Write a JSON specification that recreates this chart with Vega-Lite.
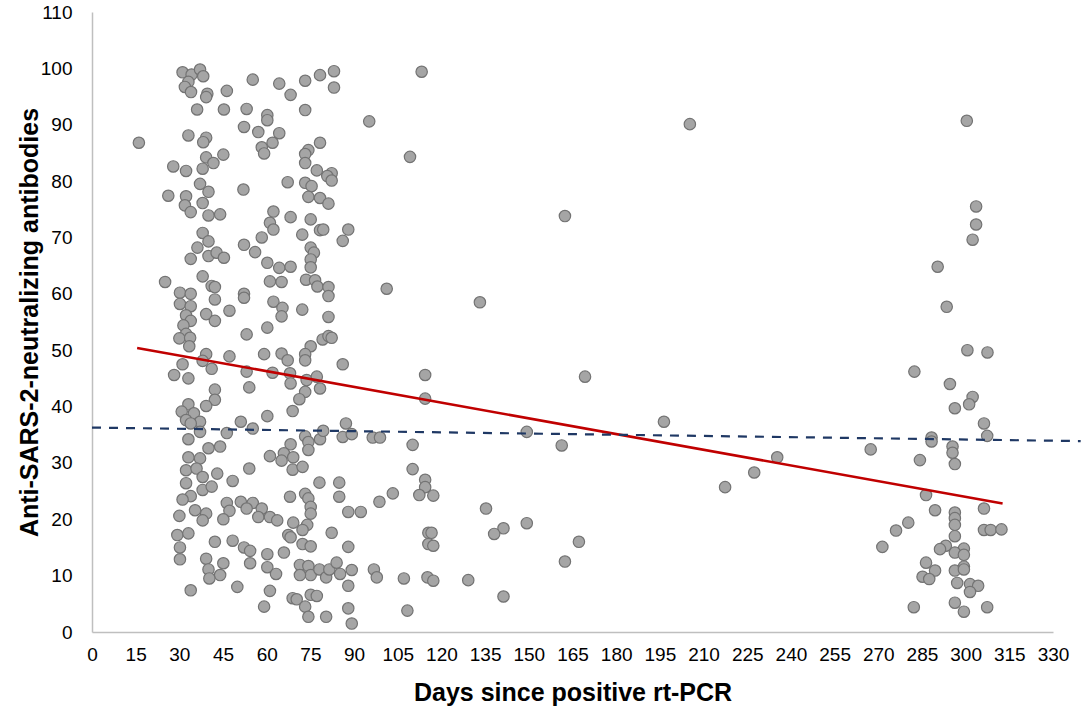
{
  "$schema": "https://vega.github.io/schema/vega-lite/v6.json",
  "width": 961,
  "height": 620,
  "autosize": {"type": "none"},
  "padding": {"left": 92, "top": 12, "right": 31, "bottom": 76},
  "background": "#ffffff",
  "config": {"view": {"stroke": null}},
  "datasets": {
    "points": [
      {"day":31.1,"antibodies":99.3},{"day":34.2,"antibodies":98.9},{"day":37.1,"antibodies":99.8},{"day":38.2,"antibodies":98.6},{"day":33.1,"antibodies":97.6},{"day":31.9,"antibodies":96.7},{"day":34.0,"antibodies":95.8},{"day":39.6,"antibodies":95.5},{"day":39.2,"antibodies":94.9},{"day":46.3,"antibodies":96.0},{"day":55.2,"antibodies":98.0},{"day":64.3,"antibodies":97.3},{"day":68.2,"antibodies":95.3},{"day":73.2,"antibodies":97.8},{"day":78.3,"antibodies":98.8},{"day":83.1,"antibodies":99.5},{"day":83.1,"antibodies":96.6},{"day":36.1,"antibodies":92.7},{"day":45.3,"antibodies":92.7},{"day":53.1,"antibodies":92.8},{"day":60.2,"antibodies":91.7},{"day":60.2,"antibodies":90.8},{"day":73.2,"antibodies":92.6},{"day":95.2,"antibodies":90.6},{"day":16.1,"antibodies":86.8},{"day":33.1,"antibodies":88.1},{"day":39.2,"antibodies":87.7},{"day":38.2,"antibodies":86.9},{"day":52.2,"antibodies":89.6},{"day":57.1,"antibodies":88.7},{"day":64.3,"antibodies":88.5},{"day":62.0,"antibodies":86.8},{"day":58.3,"antibodies":86.0},{"day":59.1,"antibodies":84.9},{"day":78.3,"antibodies":86.8},{"day":74.3,"antibodies":85.5},{"day":73.2,"antibodies":84.8},{"day":73.2,"antibodies":83.2},{"day":39.2,"antibodies":84.2},{"day":41.7,"antibodies":83.2},{"day":45.1,"antibodies":84.7},{"day":38.0,"antibodies":82.2},{"day":27.9,"antibodies":82.6},{"day":32.3,"antibodies":81.8},{"day":37.1,"antibodies":79.5},{"day":40.0,"antibodies":78.1},{"day":26.2,"antibodies":77.4},{"day":32.3,"antibodies":77.3},{"day":31.9,"antibodies":75.7},{"day":33.9,"antibodies":74.5},{"day":38.0,"antibodies":76.1},{"day":40.0,"antibodies":73.9},{"day":44.0,"antibodies":74.1},{"day":52.0,"antibodies":78.5},{"day":67.2,"antibodies":79.8},{"day":73.2,"antibodies":79.7},{"day":75.4,"antibodies":79.1},{"day":74.3,"antibodies":77.2},{"day":78.3,"antibodies":77.0},{"day":81.2,"antibodies":76.0},{"day":77.2,"antibodies":81.9},{"day":82.3,"antibodies":81.4},{"day":80.8,"antibodies":80.9},{"day":82.3,"antibodies":80.1},{"day":62.3,"antibodies":74.6},{"day":68.2,"antibodies":73.6},{"day":75.1,"antibodies":73.2},{"day":78.3,"antibodies":71.3},{"day":79.4,"antibodies":71.4},{"day":88.0,"antibodies":71.4},{"day":86.1,"antibodies":69.4},{"day":61.1,"antibodies":72.6},{"day":62.3,"antibodies":71.4},{"day":58.3,"antibodies":70.0},{"day":72.2,"antibodies":70.5},{"day":38.0,"antibodies":70.8},{"day":40.0,"antibodies":69.3},{"day":36.2,"antibodies":68.2},{"day":33.9,"antibodies":66.2},{"day":40.0,"antibodies":66.7},{"day":42.8,"antibodies":67.3},{"day":45.3,"antibodies":66.4},{"day":52.2,"antibodies":68.7},{"day":56.0,"antibodies":67.4},{"day":60.2,"antibodies":65.5},{"day":64.3,"antibodies":64.6},{"day":68.2,"antibodies":64.8},{"day":75.1,"antibodies":68.2},{"day":76.2,"antibodies":67.3},{"day":75.1,"antibodies":66.1},{"day":75.1,"antibodies":64.7},{"day":73.5,"antibodies":62.5},{"day":76.6,"antibodies":62.4},{"day":77.4,"antibodies":61.3},{"day":81.2,"antibodies":61.2},{"day":81.2,"antibodies":59.6},{"day":25.1,"antibodies":62.1},{"day":38.0,"antibodies":63.1},{"day":41.1,"antibodies":61.4},{"day":42.2,"antibodies":61.2},{"day":30.2,"antibodies":60.2},{"day":33.9,"antibodies":60.0},{"day":30.2,"antibodies":58.2},{"day":33.9,"antibodies":57.8},{"day":32.3,"antibodies":56.2},{"day":33.9,"antibodies":55.2},{"day":31.4,"antibodies":54.4},{"day":32.3,"antibodies":52.9},{"day":30.0,"antibodies":52.1},{"day":33.7,"antibodies":52.2},{"day":42.2,"antibodies":59.0},{"day":39.2,"antibodies":56.4},{"day":42.2,"antibodies":55.2},{"day":47.2,"antibodies":57.0},{"day":52.2,"antibodies":60.0},{"day":52.2,"antibodies":59.3},{"day":61.1,"antibodies":62.2},{"day":65.1,"antibodies":62.1},{"day":62.3,"antibodies":58.6},{"day":65.4,"antibodies":57.5},{"day":65.1,"antibodies":56.0},{"day":72.2,"antibodies":57.2},{"day":81.2,"antibodies":55.9},{"day":60.2,"antibodies":54.0},{"day":53.1,"antibodies":52.8},{"day":79.2,"antibodies":51.9},{"day":81.2,"antibodies":52.5},{"day":82.3,"antibodies":52.2},{"day":33.4,"antibodies":50.7},{"day":75.1,"antibodies":50.7},
      {"day":113.2,"antibodies":99.4},{"day":109.2,"antibodies":84.3},{"day":205.3,"antibodies":90.1},{"day":162.4,"antibodies":73.8},{"day":101.2,"antibodies":60.9},{"day":133.2,"antibodies":58.5},
      {"day":300.4,"antibodies":90.7},
      {"day":303.6,"antibodies":75.5},{"day":303.6,"antibodies":72.3},{"day":302.4,"antibodies":69.6},{"day":290.4,"antibodies":64.8},{"day":293.5,"antibodies":57.7},{"day":300.6,"antibodies":50.0},{"day":307.5,"antibodies":49.6},{"day":282.4,"antibodies":46.2},{"day":294.6,"antibodies":44.0},
      {"day":39.2,"antibodies":49.3},{"day":47.2,"antibodies":48.9},{"day":59.1,"antibodies":49.3},{"day":65.1,"antibodies":49.4},{"day":67.2,"antibodies":48.2},{"day":73.2,"antibodies":49.3},{"day":73.2,"antibodies":48.2},{"day":86.1,"antibodies":47.5},{"day":31.1,"antibodies":47.5},{"day":38.0,"antibodies":48.1},{"day":41.1,"antibodies":46.7},{"day":28.2,"antibodies":45.6},{"day":33.1,"antibodies":45.0},{"day":53.1,"antibodies":46.2},{"day":62.0,"antibodies":46.0},{"day":68.0,"antibodies":45.9},{"day":68.2,"antibodies":44.1},{"day":73.7,"antibodies":44.7},{"day":77.2,"antibodies":45.3},{"day":78.3,"antibodies":43.2},{"day":73.2,"antibodies":42.6},{"day":71.2,"antibodies":41.3},{"day":68.9,"antibodies":39.2},{"day":54.0,"antibodies":43.4},{"day":42.2,"antibodies":43.0},{"day":42.2,"antibodies":41.2},{"day":39.2,"antibodies":40.1},{"day":33.1,"antibodies":40.4},{"day":30.8,"antibodies":39.1},{"day":35.0,"antibodies":38.8},{"day":32.3,"antibodies":37.6},{"day":37.1,"antibodies":37.3},{"day":33.9,"antibodies":37.0},{"day":37.1,"antibodies":35.5},{"day":33.1,"antibodies":34.2},{"day":51.1,"antibodies":37.3},{"day":60.2,"antibodies":38.3},{"day":55.2,"antibodies":36.1},{"day":46.3,"antibodies":35.3},{"day":87.2,"antibodies":37.0},{"day":86.1,"antibodies":34.6},{"day":89.2,"antibodies":35.1},{"day":96.4,"antibodies":34.5},{"day":73.2,"antibodies":34.7},{"day":78.3,"antibodies":34.2},{"day":79.4,"antibodies":35.7},{"day":74.3,"antibodies":33.7},{"day":74.3,"antibodies":32.3},{"day":68.2,"antibodies":33.3},{"day":65.9,"antibodies":31.7},{"day":61.1,"antibodies":31.2},{"day":65.1,"antibodies":30.4},{"day":69.1,"antibodies":31.0},{"day":68.9,"antibodies":28.8},{"day":72.3,"antibodies":29.3},{"day":40.0,"antibodies":32.6},{"day":44.0,"antibodies":32.9},{"day":37.1,"antibodies":30.8},{"day":33.1,"antibodies":31.0},{"day":54.0,"antibodies":29.0},{"day":32.3,"antibodies":28.7},{"day":35.9,"antibodies":29.0},{"day":43.0,"antibodies":28.1},{"day":38.0,"antibodies":27.5},{"day":32.3,"antibodies":26.4},{"day":38.0,"antibodies":25.2},{"day":41.1,"antibodies":25.8},{"day":33.9,"antibodies":24.1},{"day":31.1,"antibodies":23.5},{"day":48.3,"antibodies":26.8},{"day":78.1,"antibodies":26.5},{"day":84.9,"antibodies":26.5},{"day":84.9,"antibodies":24.0},{"day":68.0,"antibodies":24.0},{"day":73.2,"antibodies":24.5},{"day":74.3,"antibodies":23.7},{"day":75.1,"antibodies":22.2},{"day":75.1,"antibodies":21.0},{"day":88.0,"antibodies":21.3},{"day":92.3,"antibodies":21.3},{"day":98.7,"antibodies":23.1},{"day":46.3,"antibodies":22.9},{"day":51.1,"antibodies":23.1},{"day":55.2,"antibodies":22.9},{"day":53.1,"antibodies":21.9},{"day":58.3,"antibodies":21.9},{"day":57.1,"antibodies":20.4},{"day":61.1,"antibodies":20.4},{"day":63.6,"antibodies":19.8},{"day":47.2,"antibodies":21.5},{"day":45.1,"antibodies":20.0},{"day":35.4,"antibodies":21.6},{"day":39.2,"antibodies":21.0},{"day":38.0,"antibodies":19.8},{"day":30.0,"antibodies":20.6},{"day":69.1,"antibodies":19.4},{"day":73.9,"antibodies":19.0},{"day":72.3,"antibodies":18.1},{"day":67.4,"antibodies":17.2},{"day":68.2,"antibodies":16.8},{"day":82.3,"antibodies":17.6},{"day":29.3,"antibodies":17.2},{"day":33.1,"antibodies":17.5},{"day":30.2,"antibodies":15.0},{"day":30.2,"antibodies":12.9},{"day":42.2,"antibodies":16.0},{"day":48.3,"antibodies":16.2},{"day":52.2,"antibodies":15.0},{"day":54.3,"antibodies":14.4},{"day":54.3,"antibodies":12.2},{"day":60.2,"antibodies":13.8},{"day":65.9,"antibodies":14.1},{"day":72.3,"antibodies":15.6},{"day":75.1,"antibodies":15.2},{"day":88.0,"antibodies":15.1},{"day":39.2,"antibodies":13.0},{"day":45.1,"antibodies":12.2},{"day":40.0,"antibodies":11.1},{"day":44.0,"antibodies":10.1},{"day":40.3,"antibodies":9.5},{"day":60.2,"antibodies":11.5},{"day":63.2,"antibodies":10.3},{"day":71.4,"antibodies":11.9},{"day":74.3,"antibodies":11.7},{"day":75.1,"antibodies":10.1},{"day":71.4,"antibodies":10.1},{"day":78.1,"antibodies":11.1},{"day":80.4,"antibodies":9.7},{"day":81.5,"antibodies":11.1},{"day":84.0,"antibodies":12.3},{"day":85.2,"antibodies":10.3},{"day":89.2,"antibodies":11.0},{"day":88.0,"antibodies":8.2},{"day":96.8,"antibodies":11.1},{"day":97.8,"antibodies":9.7},{"day":33.9,"antibodies":7.4},{"day":49.9,"antibodies":8.0},{"day":61.1,"antibodies":7.3},{"day":68.9,"antibodies":6.0},{"day":70.3,"antibodies":5.8},{"day":75.1,"antibodies":6.6},{"day":77.2,"antibodies":6.4},{"day":73.2,"antibodies":4.5},{"day":74.3,"antibodies":2.7},{"day":59.1,"antibodies":4.5},{"day":80.4,"antibodies":2.7},{"day":88.0,"antibodies":4.2},{"day":89.2,"antibodies":1.5},
      {"day":114.4,"antibodies":45.6},{"day":114.4,"antibodies":41.4},{"day":169.3,"antibodies":45.3},{"day":98.9,"antibodies":34.5},{"day":110.1,"antibodies":33.2},{"day":149.3,"antibodies":35.5},{"day":161.3,"antibodies":33.1},{"day":110.1,"antibodies":28.9},{"day":114.4,"antibodies":27.0},{"day":114.4,"antibodies":25.7},{"day":112.4,"antibodies":24.3},{"day":117.2,"antibodies":24.2},{"day":103.3,"antibodies":24.6},{"day":135.3,"antibodies":21.9},{"day":141.3,"antibodies":18.4},{"day":138.1,"antibodies":17.4},{"day":149.3,"antibodies":19.3},{"day":115.5,"antibodies":17.6},{"day":116.6,"antibodies":17.6},{"day":115.5,"antibodies":15.6},{"day":117.2,"antibodies":15.3},{"day":167.2,"antibodies":16.0},{"day":162.4,"antibodies":12.5},{"day":107.1,"antibodies":9.5},{"day":115.2,"antibodies":9.7},{"day":117.2,"antibodies":9.1},{"day":129.2,"antibodies":9.2},{"day":141.3,"antibodies":6.3},{"day":108.3,"antibodies":3.8},
      {"day":196.4,"antibodies":37.3},{"day":235.3,"antibodies":31.0},{"day":227.4,"antibodies":28.3},{"day":217.4,"antibodies":25.7},{"day":267.4,"antibodies":32.4},{"day":276.1,"antibodies":18.0},{"day":271.4,"antibodies":15.1},
      {"day":302.4,"antibodies":41.7},{"day":301.2,"antibodies":40.4},{"day":296.3,"antibodies":39.7},{"day":306.3,"antibodies":37.0},{"day":307.4,"antibodies":34.8},{"day":288.3,"antibodies":34.5},{"day":288.3,"antibodies":33.8},{"day":295.5,"antibodies":32.9},{"day":295.5,"antibodies":31.8},{"day":296.3,"antibodies":29.8},{"day":284.3,"antibodies":30.5},{"day":286.4,"antibodies":24.3},{"day":289.5,"antibodies":21.6},{"day":306.3,"antibodies":21.9},{"day":280.3,"antibodies":19.4},{"day":296.3,"antibodies":21.2},{"day":296.3,"antibodies":20.2},{"day":296.3,"antibodies":19.0},{"day":296.3,"antibodies":17.0},{"day":306.3,"antibodies":18.1},{"day":308.6,"antibodies":18.1},{"day":312.3,"antibodies":18.2},{"day":293.2,"antibodies":15.3},{"day":291.2,"antibodies":14.7},{"day":299.4,"antibodies":14.8},{"day":296.3,"antibodies":14.1},{"day":299.4,"antibodies":13.7},{"day":286.4,"antibodies":12.3},{"day":289.5,"antibodies":10.9},{"day":285.2,"antibodies":9.8},{"day":287.5,"antibodies":9.4},{"day":296.3,"antibodies":10.9},{"day":299.4,"antibodies":11.6},{"day":299.4,"antibodies":11.1},{"day":297.1,"antibodies":8.7},{"day":301.5,"antibodies":8.5},{"day":304.3,"antibodies":8.2},{"day":301.5,"antibodies":7.1},{"day":282.2,"antibodies":4.4},{"day":296.3,"antibodies":5.2},{"day":299.4,"antibodies":3.6},{"day":307.4,"antibodies":4.4}
    ],
    "trend": [
      {"day": 15.5, "antibodies": 50.4},
      {"day": 312.7, "antibodies": 22.8}
    ],
    "cutoff": [
      {"day": 0, "antibodies": 36.27},
      {"day": 339.5, "antibodies": 33.87}
    ]
  },
  "layer": [
    {
      "data": {"name": "points"},
      "mark": {"type": "circle", "size": 130, "fill": "#a5a5a5", "stroke": "#737373", "strokeWidth": 1.2, "opacity": 1, "fillOpacity": 1},
      "encoding": {
        "x": {
          "field": "day", "type": "quantitative",
          "scale": {"domain": [0, 330], "nice": false, "zero": false},
          "axis": {
            "values": [0,15,30,45,60,75,90,105,120,135,150,165,180,195,210,225,240,255,270,285,300,315,330],
            "grid": false, "ticks": false,
            "domainColor": "#bfbfbf", "domainWidth": 1.5,
            "labelFont": "Liberation Sans", "labelFontSize": 19, "labelColor": "#000000",
            "labelPadding": 13, "labelFlush": false, "labelOverlap": false, "labelBound": false,
            "title": "Days since positive rt-PCR",
            "titleFont": "Liberation Sans", "titleFontSize": 25, "titleFontWeight": "bold", "titleColor": "#000000",
            "titleBaseline": "alphabetic", "titleY": 68
          }
        },
        "y": {
          "field": "antibodies", "type": "quantitative",
          "scale": {"domain": [0, 110], "nice": false, "zero": false},
          "axis": {
            "values": [0,10,20,30,40,50,60,70,80,90,100,110],
            "grid": false, "ticks": false,
            "domainColor": "#bfbfbf", "domainWidth": 1.5,
            "labelFont": "Liberation Sans", "labelFontSize": 19, "labelColor": "#000000",
            "labelPadding": 20, "labelFlush": false, "labelOverlap": false, "labelBound": false,
            "title": "Anti-SARS-2-neutralizing antibodies",
            "titleFont": "Liberation Sans", "titleFontSize": 25, "titleFontWeight": "bold", "titleColor": "#000000",
            "titleBaseline": "alphabetic", "titleX": -55
          }
        }
      }
    },
    {
      "data": {"name": "trend"},
      "mark": {"type": "line", "color": "#c00000", "strokeWidth": 2.6, "clip": false},
      "encoding": {
        "x": {"field": "day", "type": "quantitative"},
        "y": {"field": "antibodies", "type": "quantitative"}
      }
    },
    {
      "data": {"name": "cutoff"},
      "mark": {"type": "line", "color": "#1f3864", "strokeWidth": 2.2, "strokeDash": [9, 8], "clip": false},
      "encoding": {
        "x": {"field": "day", "type": "quantitative"},
        "y": {"field": "antibodies", "type": "quantitative"}
      }
    }
  ]
}
